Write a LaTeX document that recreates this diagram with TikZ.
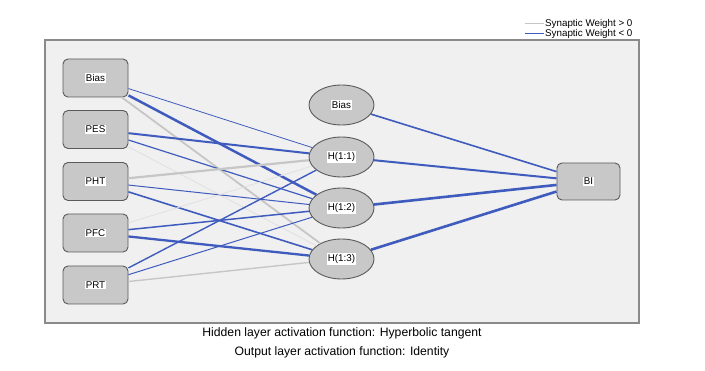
\documentclass[tikz,border=0pt]{standalone}
\usepackage{fontspec}
\setmainfont{Liberation Sans}
\usetikzlibrary{shapes.geometric}

\definecolor{panelgray}{HTML}{F0F0F0}
\definecolor{framegray}{HTML}{8A8A8A}
\definecolor{boxgray}{HTML}{C8C8C8}
\definecolor{edgegray}{HTML}{5A5A5A}
\definecolor{wneg}{HTML}{3F5BBD}
\definecolor{wpos}{HTML}{C6C6C6}
\definecolor{wposlight}{HTML}{E0E0E0}

\newcommand{\whitelbl}[1]{{\setlength{\fboxsep}{1pt}\colorbox{white}{#1}}}

\begin{document}
\begin{tikzpicture}[x=1pt,y=-1pt,
  unitbox/.style={rectangle,rounded corners=5pt,draw=edgegray,line width=0.9pt,
    fill=boxgray,minimum width=65pt,minimum height=38pt,inner sep=0pt,
    font=\fontsize{9.8}{11}\selectfont},
  hidunit/.style={ellipse,draw=edgegray,line width=0.9pt,fill=boxgray,
    minimum width=65pt,minimum height=40pt,inner sep=0pt,
    font=\fontsize{9.8}{11}\selectfont},
  negw/.style={draw=wneg,line width=#1},
  posw/.style={draw=wpos,line width=#1},
  lightw/.style={draw=wposlight,line width=#1},
  legtext/.style={anchor=west,inner sep=0pt,font=\fontsize{9.8}{10}\selectfont}]
\useasboundingbox (0,0) rectangle (705,371);

% panel
\draw[framegray,line width=1.5pt,fill=panelgray] (45,40) rectangle (639,323);

% input layer
\node[unitbox] (ibias) at (95.5,78) {\whitelbl{Bias}};
\node[unitbox] (ipes) at (95.5,129.5) {\whitelbl{PES}};
\node[unitbox] (ipht) at (95.5,181.5) {\whitelbl{PHT}};
\node[unitbox] (ipfc) at (95.5,233) {\whitelbl{PFC}};
\node[unitbox] (iprt) at (95.5,285) {\whitelbl{PRT}};

% hidden layer
\node[hidunit] (hbias) at (341.5,105) {\whitelbl{Bias}};
\node[hidunit] (h1) at (341.5,157) {\whitelbl{H(1:1)}};
\node[hidunit] (h2) at (341.5,208) {\whitelbl{H(1:2)}};
\node[hidunit] (h3) at (341.5,259) {\whitelbl{H(1:3)}};

% output layer
\node[unitbox,minimum width=63pt,minimum height=37pt] (obi) at (588.5,181.5) {\whitelbl{BI}};

% input to hidden
\draw[negw=0.8pt] (ibias) -- (h1);
\draw[negw=2.5pt] (ibias) -- (h2);
\draw[posw=1.8pt] (ibias) -- (h3);
\draw[negw=2pt] (ipes) -- (h1);
\draw[negw=1.2pt] (ipes) -- (h2);
\draw[lightw=0.8pt] (ipes) -- (h3);
\draw[posw=2.2pt] (ipht) -- (h1);
\draw[negw=1pt] (ipht) -- (h2);
\draw[negw=1.6pt] (ipht) -- (h3);
\draw[lightw=0.8pt] (ipfc) -- (h1);
\draw[negw=1.5pt] (ipfc) -- (h2);
\draw[negw=2.3pt] (ipfc) -- (h3);
\draw[negw=1.4pt] (iprt) -- (h1);
\draw[negw=1pt] (iprt) -- (h2);
\draw[posw=1.4pt] (iprt) -- (h3);

% hidden to output
\draw[negw=1.6pt] (hbias) -- (obi);
\draw[negw=2pt] (h1) -- (obi);
\draw[negw=2.6pt] (h2) -- (obi);
\draw[negw=2.6pt] (h3) -- (obi);

% legend
\node[legtext] (lgpos) at (545,24) {Synaptic Weight > 0};
\node[legtext] (lgneg) at (545,33.5) {Synaptic Weight < 0};
\draw[posw=1pt] (lgpos.west) ++(-1,0) -- ++(-19,0);
\draw[negw=1pt] (lgneg.west) ++(-1,0) -- ++(-19,0);

% captions
\node[font=\fontsize{12.2}{13}\selectfont] (caphid) at (342,333) {Hidden layer activation function: Hyperbolic tangent};
\node[font=\fontsize{12.2}{13}\selectfont] (capout) at (342,352) {Output layer activation function: Identity};
\end{tikzpicture}
\end{document}
